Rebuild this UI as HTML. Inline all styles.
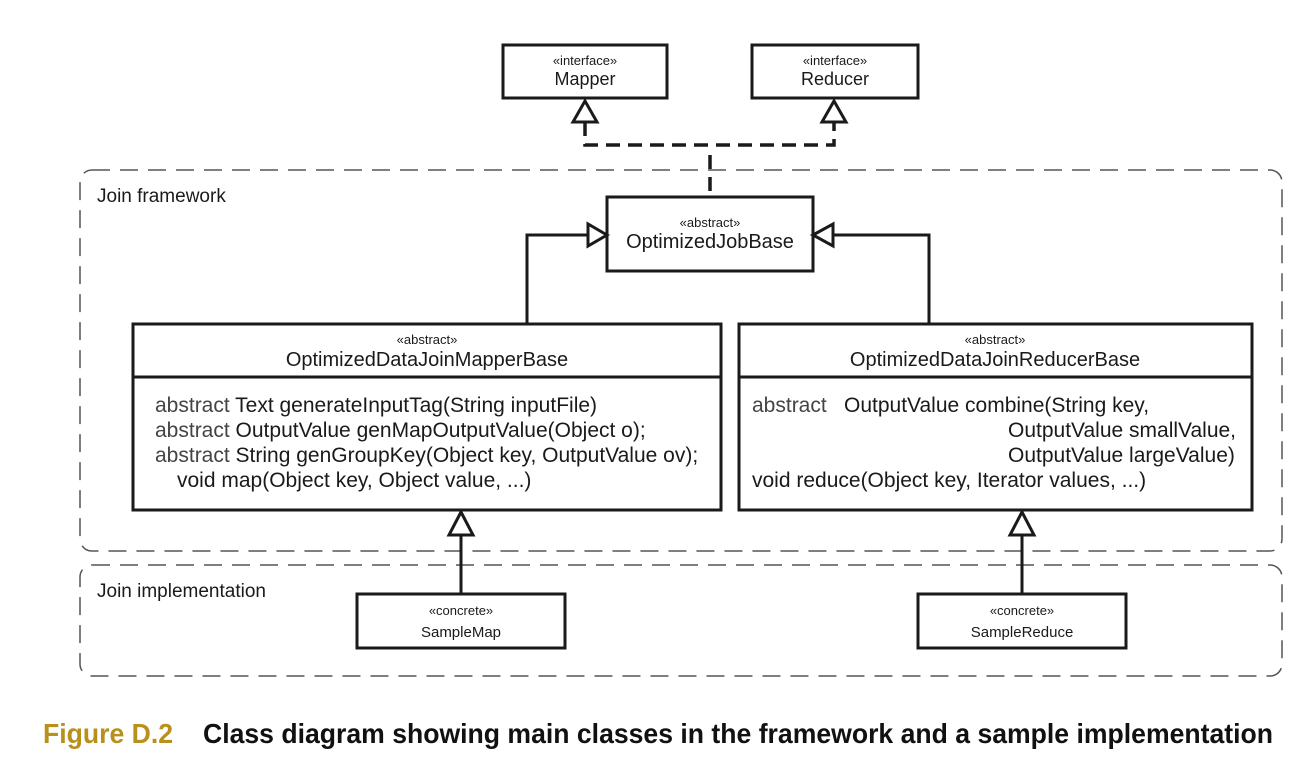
<!DOCTYPE html>
<html><head><meta charset="utf-8"><style>
html,body{margin:0;padding:0;background:#fff;}
svg{display:block;}
text{font-family:"Liberation Sans",sans-serif;fill:#1a1a1a;}
</style></head><body>
<svg width="1310" height="770" viewBox="0 0 1310 770" xmlns="http://www.w3.org/2000/svg">
<rect x="80" y="170" width="1202" height="381" rx="12" fill="none" stroke="#555" stroke-width="1.5" stroke-dasharray="18 10"/>
<rect x="80" y="565" width="1202" height="111" rx="12" fill="none" stroke="#555" stroke-width="1.5" stroke-dasharray="18 10"/>
<text x="97" y="202" font-size="19">Join framework</text>
<text x="97" y="597" font-size="19">Join implementation</text>

<g fill="#fff" stroke="#1a1a1a" stroke-width="3">
<rect x="503" y="45" width="164" height="53"/>
<rect x="752" y="45" width="166" height="53"/>
<rect x="607" y="197" width="206" height="74"/>
<rect x="133" y="324" width="588" height="186"/>
<rect x="739" y="324" width="513" height="186"/>
<rect x="357" y="594" width="208" height="54"/>
<rect x="918" y="594" width="208" height="54"/>
</g>
<g stroke="#1a1a1a" stroke-width="3">
<line x1="133" y1="377" x2="721" y2="377"/>
<line x1="739" y1="377" x2="1252" y2="377"/>
</g>

<g fill="none" stroke="#1a1a1a" stroke-width="3.5" stroke-dasharray="14 8">
<polyline points="585,122 585,145 834,145 834,122"/>
<line x1="710" y1="155" x2="710" y2="197"/>
</g>
<g fill="none" stroke="#1a1a1a" stroke-width="3">
<polyline points="527,324 527,235 588,235"/>
<polyline points="929,324 929,235 833,235"/>
<line x1="461" y1="535" x2="461" y2="594"/>
<line x1="1022" y1="535" x2="1022" y2="594"/>
</g>
<g fill="#fff" stroke="#1a1a1a" stroke-width="3">
<polygon points="585,101 573,122 597,122"/>
<polygon points="834,101 822,122 846,122"/>
<polygon points="607,235 588,224 588,246"/>
<polygon points="813,235 833,224 833,246"/>
<polygon points="461,512 449,535 473,535"/>
<polygon points="1022,512 1010,535 1034,535"/>
</g>

<g text-anchor="middle">
<text x="585" y="65" font-size="13">«interface»</text>
<text x="585" y="85" font-size="18">Mapper</text>
<text x="835" y="65" font-size="13">«interface»</text>
<text x="835" y="85" font-size="18">Reducer</text>
<text x="710" y="227" font-size="13">«abstract»</text>
<text x="710" y="248" font-size="20">OptimizedJobBase</text>
<text x="427" y="344" font-size="13">«abstract»</text>
<text x="427" y="366" font-size="20">OptimizedDataJoinMapperBase</text>
<text x="995" y="344" font-size="13">«abstract»</text>
<text x="995" y="366" font-size="20">OptimizedDataJoinReducerBase</text>
<text x="461" y="615" font-size="13">«concrete»</text>
<text x="461" y="637" font-size="15">SampleMap</text>
<text x="1022" y="615" font-size="13">«concrete»</text>
<text x="1022" y="637" font-size="15">SampleReduce</text>
</g>

<g font-size="21">
<text x="155" y="412"><tspan fill="#444">abstract</tspan>  Text generateInputTag(String inputFile)</text>
<text x="155" y="437"><tspan fill="#444">abstract</tspan>  OutputValue genMapOutputValue(Object o);</text>
<text x="155" y="462"><tspan fill="#444">abstract</tspan>  String genGroupKey(Object key, OutputValue ov);</text>
<text x="177" y="487">void map(Object key, Object value, ...)</text>
<text x="752" y="412"><tspan fill="#444">abstract</tspan></text>
<text x="844" y="412">OutputValue combine(String key,</text>
<text x="1008" y="437">OutputValue smallValue,</text>
<text x="1008" y="462">OutputValue largeValue)</text>
<text x="752" y="487">void reduce(Object key, Iterator values, ...)</text>
</g>

<text x="43" y="743" font-size="28" font-weight="bold" textLength="130" lengthAdjust="spacingAndGlyphs" style="fill:#b8901c">Figure D.2</text>
<text x="203" y="743" font-size="28" font-weight="bold" textLength="1070" lengthAdjust="spacingAndGlyphs" style="fill:#111">Class diagram showing main classes in the framework and a sample implementation</text>
</svg>
</body></html>
